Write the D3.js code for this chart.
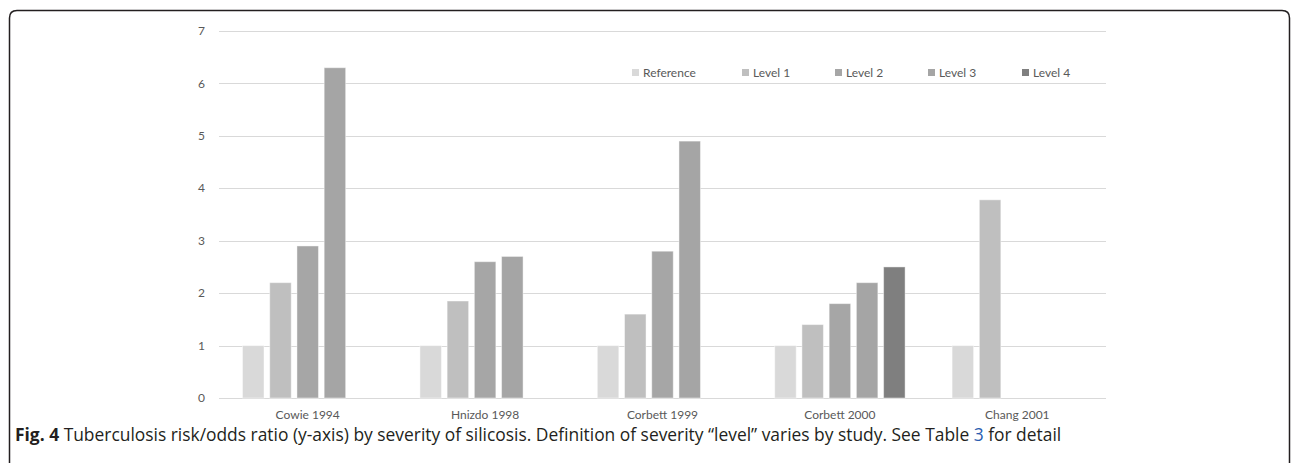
<!DOCTYPE html>
<html>
<head>
<meta charset="utf-8">
<script src="https://cdn.jsdelivr.net/npm/d3@7"></script>
<style>
  html, body { margin: 0; padding: 0; background: #fff; }
  svg { display: block; }
</style>
</head>
<body>
<svg id="chart" width="1292" height="463"></svg>
<script>
// Studies (x categories)
const studies = ["Cowie 1994", "Hnizdo 1998", "Corbett 1999", "Corbett 2000", "Chang 2001"];
// Severity series
const seriesNames = ["Reference", "Level 1", "Level 2", "Level 3", "Level 4"];
// Risk / odds ratios per series, one value per study (null = not reported)
const reference = [1, 1, 1, 1, 1];
const level1 = [2.2, 1.85, 1.6, 1.4, 3.78];
const level2 = [2.9, 2.6, 2.8, 1.8, null];
const level3 = [6.3, 2.7, 4.9, 2.2, null];
const level4 = [null, null, null, 2.5, null];
const yTicks = [0, 1, 2, 3, 4, 5, 6, 7];
const seriesColors = ["#d9d9d9", "#bfbfbf", "#a6a6a6", "#a5a5a5", "#7f7f7f"];

const seriesValues = [reference, level1, level2, level3, level4];

const svg = d3.select("#chart");
const plot = { left: 219, right: 1106, top: 31, bottom: 398 };

const x0 = d3.scaleBand().domain(studies).range([plot.left, plot.right])
  .paddingInner(0.265).paddingOuter(0.1325);
const x1 = d3.scaleBand().domain(seriesNames).range([0, x0.bandwidth()])
  .paddingInner(0.21).paddingOuter(0);
const y = d3.scaleLinear().domain([0, 7]).range([plot.bottom, plot.top]);

const chartFont = "Lato, 'Open Sans', sans-serif";

// Figure frame (rounded top-left / top-right, open at bottom)
svg.append("path")
  .attr("d", "M9.5,463 L9.5,18 Q9.5,10.5 17,10.5 L1282,10.5 Q1289.5,10.5 1289.5,18 L1289.5,463")
  .attr("fill", "none").attr("stroke", "#231f20").attr("stroke-width", 1.5);

// Horizontal gridlines
svg.append("g").selectAll("line").data(yTicks).join("line")
  .attr("x1", plot.left).attr("x2", plot.right)
  .attr("y1", d => Math.round(y(d)) + 0.5).attr("y2", d => Math.round(y(d)) + 0.5)
  .attr("stroke", "#d9d9d9").attr("stroke-width", 1);

// Y tick labels
svg.append("g").selectAll("text").data(yTicks).join("text")
  .attr("x", 205).attr("y", d => y(d)).attr("dy", "0.35em")
  .attr("text-anchor", "end")
  .attr("font-family", chartFont).attr("font-size", 12).attr("fill", "#595959")
  .text(d => d);

// Bars
const rows = [];
studies.forEach((s, i) => {
  seriesNames.forEach((n, j) => {
    const v = seriesValues[j][i];
    if (v !== null) rows.push({ study: s, series: n, value: v, color: seriesColors[j] });
  });
});
svg.append("g").selectAll("rect").data(rows).join("rect")
  .attr("x", d => x0(d.study) + x1(d.series))
  .attr("y", d => y(d.value))
  .attr("width", x1.bandwidth())
  .attr("height", d => y(0) - y(d.value))
  .attr("fill", d => d.color)
  .attr("stroke", "#ffffff").attr("stroke-opacity", 0.45).attr("stroke-width", 1);

// X category labels
svg.append("g").selectAll("text").data(studies).join("text")
  .attr("x", d => x0(d) + x0.bandwidth() / 2).attr("y", 419)
  .attr("text-anchor", "middle")
  .attr("font-family", chartFont).attr("font-size", 12).attr("fill", "#595959")
  .text(d => d);

// Legend
const legendX = [632, 742, 835, 928, 1022];
const legend = svg.append("g").selectAll("g").data(seriesNames).join("g")
  .attr("transform", (d, i) => `translate(${legendX[i]},69)`);
legend.append("rect").attr("width", 7).attr("height", 7)
  .attr("fill", (d, i) => seriesColors[i]);
legend.append("text").attr("x", 11).attr("y", 3.5).attr("dy", "0.35em")
  .attr("font-family", chartFont).attr("font-size", 12).attr("fill", "#595959")
  .text(d => d);

// Caption
const cap = svg.append("text").attr("x", 15).attr("y", 441)
  .attr("font-family", "'Open Sans', sans-serif").attr("font-size", 17.4).attr("fill", "#231f20");
cap.append("tspan").attr("font-weight", "bold").text("Fig. 4");
cap.append("tspan").text(" Tuberculosis risk/odds ratio (y-axis) by severity of silicosis. Definition of severity \u201clevel\u201d varies by study. See Table ");
cap.append("tspan").attr("fill", "#2a5db0").text("3");
cap.append("tspan").text(" for detail");
</script>
</body>
</html>
